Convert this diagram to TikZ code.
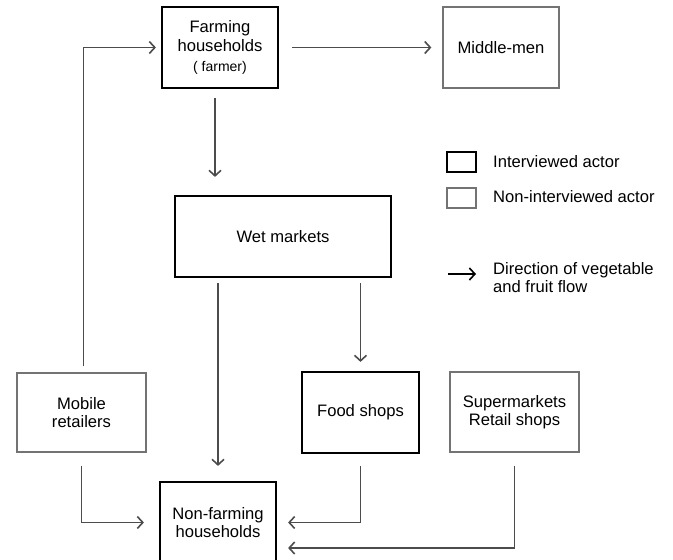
\documentclass[tikz,border=0pt]{standalone}
\usepackage{fontspec}
\setmainfont{Liberation Sans}
\usetikzlibrary{arrows.meta}
\begin{document}
\begin{tikzpicture}[x=1pt,y=-1pt,
  every node/.style={font=\fontsize{16.6}{18.5}\selectfont, align=center, inner sep=0pt},
  actor/.style={draw=black, line width=2.2pt, minimum height=81pt},
  other/.style={draw=black!55, line width=1.3pt, minimum height=80pt},
  flow/.style={draw=black!70, line width=1.3pt, -{Straight Barb[length=5.5pt,width=12pt,line width=1.6pt]}},
  legtxt/.style={anchor=west, align=left},
]
\useasboundingbox (0,0) rectangle (673,560);
% actors
\node[actor, minimum width=116pt] (farm) at (220,47.5) {Farming\\households\\[2pt]{\fontsize{14}{15}\selectfont( farmer)}};
\node[other, minimum width=116pt, minimum height=81pt] (mid) at (501,47.5) {Middle-men};
\node[actor, minimum width=216pt] (wet) at (283,236.5) {Wet markets};
\node[other, minimum width=129pt, minimum height=79pt] (mobile) at (81.5,412.5) {Mobile\\retailers};
\node[actor, minimum width=117pt] (food) at (360.5,412.5) {Food shops};
\node[other, minimum width=129pt] (super) at (514.5,412) {Supermarkets\\Retail shops};
\node[actor, minimum width=116pt] (nonfarm) at (218,522.5) {Non-farming\\households};
% flows
\draw[flow, shorten <=13pt, shorten >=11pt] (farm.east) -- (mid.west);
\draw[flow, shorten <=6pt, shorten >=5pt] ([xshift=2pt]mobile.north) |- (farm.west);
\coordinate (fs) at ([xshift=-5pt]farm.south);
\draw[flow, shorten <=9pt, shorten >=18pt] (fs) -- (fs |- wet.north);
\draw[flow, shorten <=5pt, shorten >=15pt] (wet.south -| nonfarm.north) -- (nonfarm.north);
\draw[flow, shorten <=5pt, shorten >=9pt] (wet.south -| food.north) -- (food.north);
\draw[flow, shorten <=13pt, shorten >=15pt] (mobile.south) |- (nonfarm.west);
\draw[flow, shorten <=12pt, shorten >=11pt] (food.south) |- (nonfarm.east);
\draw[flow, shorten <=13pt, shorten >=11pt] (super.south) |- ([yshift=-25.5pt]nonfarm.east);
% legend
\node[actor, minimum width=29pt, minimum height=20pt] (legA) at (461.5,162) {};
\node[other, minimum width=29pt, minimum height=20pt] (legB) at (461.5,198) {};
\node[legtxt] (legAt) at (493,162) {Interviewed actor};
\node[legtxt] (legBt) at (493,197) {Non-interviewed actor};
\coordinate (la1) at (448,274);
\coordinate (la2) at (476,274);
\draw[flow, draw=black] (la1) -- (la2);
\node[legtxt, anchor=north west] (legCt) at (493,262) {Direction of vegetable\\and fruit flow};
\end{tikzpicture}
\end{document}
